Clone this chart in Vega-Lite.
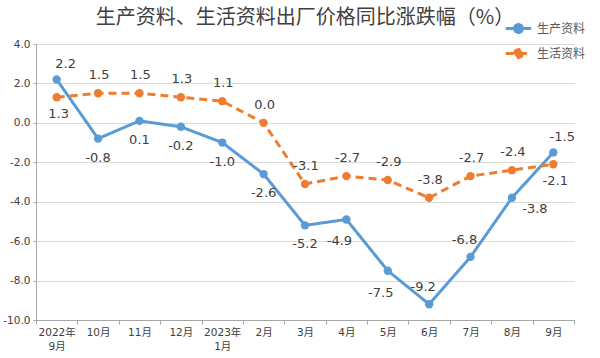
{
  "$schema": "https://vega.github.io/schema/vega-lite/v6.json",
  "width": 538,
  "height": 276,
  "autosize": "none",
  "padding": {"left": 36, "top": 44, "right": 26, "bottom": 38},
  "background": "white",
  "title": {
    "text": "生产资料、生活资料出厂价格同比涨跌幅（%）",
    "font": "Noto Sans CJK SC",
    "fontSize": 20,
    "fontWeight": "normal",
    "color": "#404040",
    "offset": 8,
    "dy": 22
  },
  "config": {
    "font": "DejaVu Sans, Noto Sans CJK SC",
    "view": {"stroke": null}
  },
  "data": {
    "values": [
      {"month": "2022年9月", "series": "生产资料", "value": 2.2},
      {"month": "10月", "series": "生产资料", "value": -0.8},
      {"month": "11月", "series": "生产资料", "value": 0.1},
      {"month": "12月", "series": "生产资料", "value": -0.2},
      {"month": "2023年1月", "series": "生产资料", "value": -1.0},
      {"month": "2月", "series": "生产资料", "value": -2.6},
      {"month": "3月", "series": "生产资料", "value": -5.2},
      {"month": "4月", "series": "生产资料", "value": -4.9},
      {"month": "5月", "series": "生产资料", "value": -7.5},
      {"month": "6月", "series": "生产资料", "value": -9.2},
      {"month": "7月", "series": "生产资料", "value": -6.8},
      {"month": "8月", "series": "生产资料", "value": -3.8},
      {"month": "9月", "series": "生产资料", "value": -1.5},
      {"month": "2022年9月", "series": "生活资料", "value": 1.3},
      {"month": "10月", "series": "生活资料", "value": 1.5},
      {"month": "11月", "series": "生活资料", "value": 1.5},
      {"month": "12月", "series": "生活资料", "value": 1.3},
      {"month": "2023年1月", "series": "生活资料", "value": 1.1},
      {"month": "2月", "series": "生活资料", "value": 0.0},
      {"month": "3月", "series": "生活资料", "value": -3.1},
      {"month": "4月", "series": "生活资料", "value": -2.7},
      {"month": "5月", "series": "生活资料", "value": -2.9},
      {"month": "6月", "series": "生活资料", "value": -3.8},
      {"month": "7月", "series": "生活资料", "value": -2.7},
      {"month": "8月", "series": "生活资料", "value": -2.4},
      {"month": "9月", "series": "生活资料", "value": -2.1}
    ]
  },
  "encoding": {
    "x": {
      "field": "month",
      "type": "nominal",
      "sort": null,
      "scale": {"type": "band", "paddingInner": 0, "paddingOuter": 0},
      "axis": {
        "title": null,
        "labelAngle": 0,
        "labelFontSize": 10.5,
        "labelColor": "#404040",
        "labelLineHeight": 14,
        "labelPadding": 3,
        "tickBand": "extent",
        "tickColor": "#a6a6a6",
        "tickSize": 4,
        "domainColor": "#a6a6a6",
        "grid": false,
        "labelExpr": "isString(datum.value) && indexof(datum.value,'年') > 0 ? [slice(datum.value,0,5), slice(datum.value,5)] : datum.label"
      }
    },
    "y": {
      "field": "value",
      "type": "quantitative",
      "scale": {"domain": [-10, 4], "nice": false},
      "axis": {
        "title": null,
        "values": [-10, -8, -6, -4, -2, 0, 2, 4],
        "labelExpr": "replace(format(datum.value, '.1f'), '−', '-')",
        "labelFontSize": 10.5,
        "labelColor": "#404040",
        "labelPadding": 3,
        "tickSize": 3,
        "tickColor": "#a6a6a6",
        "domainColor": "#a6a6a6",
        "gridColor": "#d9d9d9"
      }
    }
  },
  "layer": [
    {
      "mark": {"type": "line", "strokeWidth": 3},
      "encoding": {
        "color": {
          "field": "series",
          "type": "nominal",
          "scale": {"domain": ["生产资料", "生活资料"], "range": ["#5B9BD5", "#ED7D31"]},
          "legend": {
            "title": null,
            "orient": "none",
            "legendX": 468,
            "legendY": -30,
            "symbolType": "M-1,0L1,0M0.33,0L0.23,0.23L0,0.33L-0.23,0.23L-0.33,0L-0.23,-0.23L0,-0.33L0.23,-0.23Z",
            "symbolSize": 650,
            "symbolStrokeWidth": 3,
            "labelFont": "Noto Sans CJK SC",
            "labelFontSize": 12,
            "labelColor": "#595959",
            "labelOffset": 4,
            "rowPadding": -13,
            "encode": {"symbols": {"update": {"fill": {"scale": "color", "field": "value"}}}}
          }
        },
        "strokeDash": {
          "field": "series",
          "type": "nominal",
          "scale": {"domain": ["生产资料", "生活资料"], "range": [[1, 0], [8, 5]]},
          "legend": null
        }
      }
    },
    {
      "mark": {"type": "circle", "size": 70, "opacity": 1},
      "encoding": {
        "color": {"field": "series", "type": "nominal", "legend": null}
      }
    },
    {
      "transform": [{"filter": "datum.series == '生产资料' && indexof(['10月','11月','12月','2023年1月','2月','3月'], datum.month) >= 0"}],
      "mark": {"type": "text", "fontSize": 13, "color": "#404040", "dy": 19, "text": {"expr": "replace(format(datum.value, '.1f'), '−', '-')"}},
      "encoding": {}
    },
    {
      "transform": [{"filter": "datum.series == '生产资料' && indexof(['4月','5月'], datum.month) >= 0"}],
      "mark": {"type": "text", "fontSize": 13, "color": "#404040", "dy": 22, "dx": -7, "text": {"expr": "replace(format(datum.value, '.1f'), '−', '-')"}},
      "encoding": {}
    },
    {
      "transform": [{"filter": "datum.series == '生产资料' && indexof(['2022年9月','9月'], datum.month) >= 0"}],
      "mark": {"type": "text", "fontSize": 13, "color": "#404040", "dy": -15, "dx": 9, "text": {"expr": "replace(format(datum.value, '.1f'), '−', '-')"}},
      "encoding": {}
    },
    {
      "transform": [{"filter": "datum.series == '生产资料' && indexof(['6月','7月'], datum.month) >= 0"}],
      "mark": {"type": "text", "fontSize": 13, "color": "#404040", "dy": -17, "dx": -6, "text": {"expr": "replace(format(datum.value, '.1f'), '−', '-')"}},
      "encoding": {}
    },
    {
      "transform": [{"filter": "datum.series == '生产资料' && datum.month == '8月'"}],
      "mark": {"type": "text", "fontSize": 13, "color": "#404040", "dy": 11, "dx": 23, "text": {"expr": "replace(format(datum.value, '.1f'), '−', '-')"}},
      "encoding": {}
    },
    {
      "transform": [{"filter": "datum.series == '生活资料' && indexof(['2022年9月','9月'], datum.month) < 0"}],
      "mark": {"type": "text", "fontSize": 13, "color": "#404040", "dy": -18, "dx": 1, "text": {"expr": "replace(format(datum.value, '.1f'), '−', '-')"}},
      "encoding": {}
    },
    {
      "transform": [{"filter": "datum.series == '生活资料' && indexof(['2022年9月','9月'], datum.month) >= 0"}],
      "mark": {"type": "text", "fontSize": 13, "color": "#404040", "dy": 17, "dx": 2, "text": {"expr": "replace(format(datum.value, '.1f'), '−', '-')"}},
      "encoding": {}
    }
  ]
}
